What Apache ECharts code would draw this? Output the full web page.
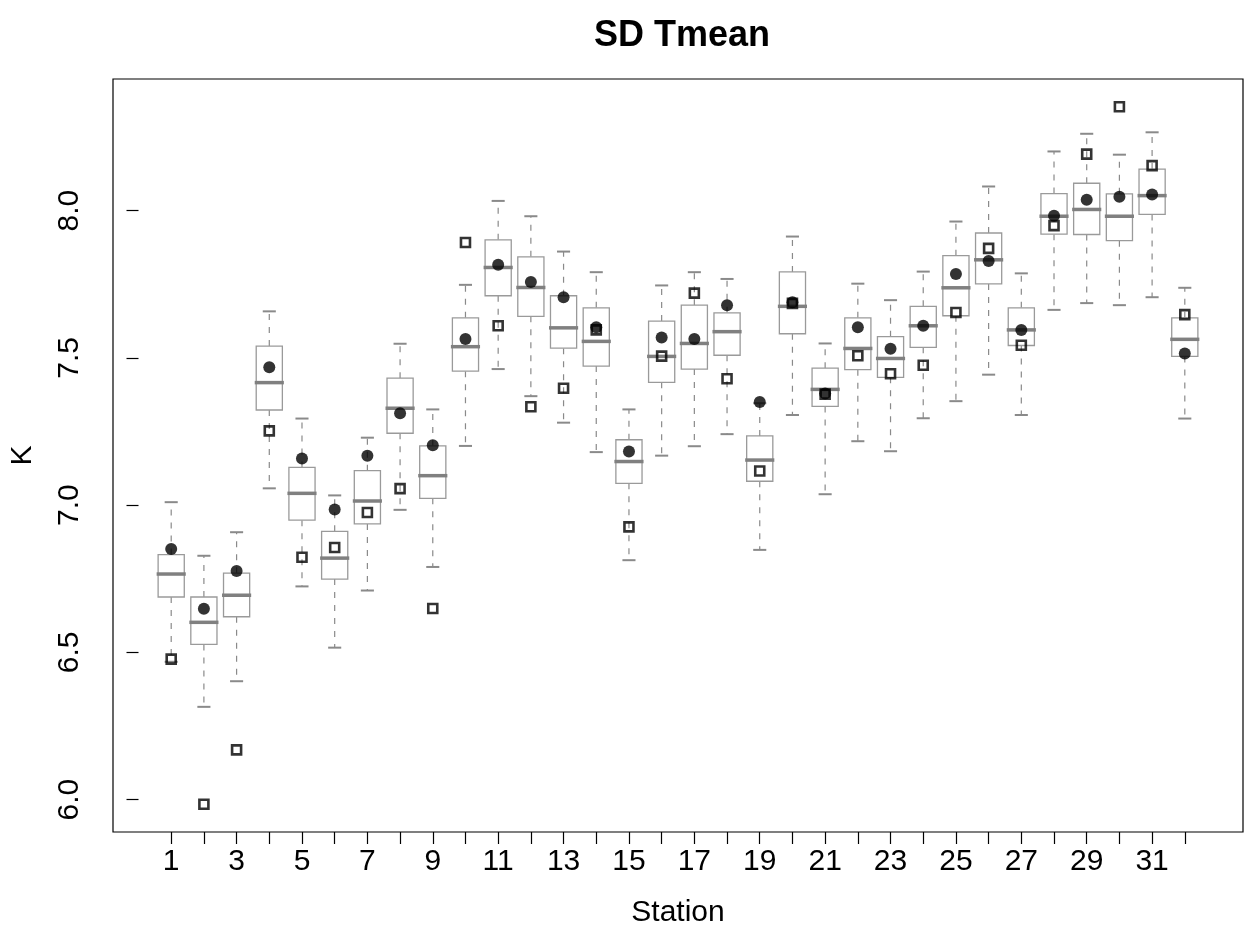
<!DOCTYPE html>
<html>
<head>
<meta charset="utf-8">
<title>SD Tmean</title>
<script src="https://cdn.jsdelivr.net/npm/echarts@6/dist/echarts.min.js"></script>
<style>
  html, body { margin: 0; padding: 0; background: #fff; }
  #chart { width: 1245px; height: 934px; }
</style>
</head>
<body>
<div id="chart"></div>
<script>
// stations on the x axis
var stations = [1,2,3,4,5,6,7,8,9,10,11,12,13,14,15,16,17,18,19,20,21,22,23,24,25,26,27,28,29,30,31,32];
// box statistics per station (K)
var whiskerLow = [6.468,6.315,6.402,7.057,6.724,6.516,6.710,6.984,6.790,7.201,7.462,7.370,7.280,7.180,6.813,7.168,7.200,7.241,6.848,7.306,7.037,7.217,7.183,7.295,7.353,7.443,7.306,7.663,7.686,7.679,7.706,7.294];
var q1 = [6.688,6.527,6.621,7.323,6.949,6.749,6.936,7.244,7.023,7.455,7.711,7.641,7.533,7.472,7.074,7.417,7.462,7.509,7.081,7.582,7.335,7.460,7.434,7.536,7.643,7.751,7.542,7.920,7.919,7.898,7.987,7.505];
var median = [6.766,6.602,6.694,7.416,7.040,6.820,7.014,7.329,7.100,7.538,7.807,7.739,7.602,7.556,7.148,7.505,7.549,7.589,7.153,7.675,7.393,7.532,7.498,7.609,7.738,7.833,7.595,7.981,8.004,7.981,8.051,7.563];
var q3 = [6.832,6.688,6.769,7.540,7.128,6.911,7.117,7.431,7.201,7.636,7.901,7.843,7.711,7.670,7.222,7.625,7.679,7.653,7.235,7.792,7.465,7.636,7.572,7.675,7.847,7.924,7.670,8.058,8.093,8.057,8.141,7.636];
var whiskerHigh = [7.010,6.828,6.908,7.658,7.294,7.033,7.229,7.548,7.325,7.748,8.033,7.981,7.861,7.791,7.325,7.746,7.791,7.768,7.346,7.912,7.549,7.752,7.696,7.793,7.963,8.082,7.787,8.201,8.261,8.190,8.266,7.738];
// filled dots and open squares
var dots = [6.851,6.648,6.776,7.468,7.158,6.985,7.168,7.312,7.203,7.564,7.816,7.758,7.706,7.604,7.182,7.569,7.564,7.679,7.350,7.689,7.379,7.604,7.531,7.609,7.785,7.829,7.595,7.983,8.037,8.047,8.055,7.515];
var squares = [6.477,5.984,6.169,7.252,6.823,6.856,6.975,7.056,6.649,7.892,7.609,7.334,7.397,7.595,6.926,7.506,7.720,7.429,7.116,7.685,7.377,7.507,7.446,7.475,7.654,7.872,7.543,7.949,8.192,8.353,8.153,7.647];
// tick labels
var xTicks = stations;
var xLabels = [1,3,5,7,9,11,13,15,17,19,21,23,25,27,29,31];
var yTicks = [6.0,6.5,7.0,7.5,8.0];

var font = "'Liberation Sans', Arial, Helvetica, sans-serif";

var boxData = stations.map(function (s, i) {
    return [s, whiskerLow[i], q1[i], median[i], q3[i], whiskerHigh[i]];
});
var dotData = stations.map(function (s, i) { return [s, dots[i]]; });
var squareData = stations.map(function (s, i) { return [s, squares[i]]; });

function renderBox(params, api) {
    var x = api.value(0);
    var lo = api.coord([x, api.value(1)]);
    var b1 = api.coord([x, api.value(2)]);
    var md = api.coord([x, api.value(3)]);
    var b3 = api.coord([x, api.value(4)]);
    var hi = api.coord([x, api.value(5)]);
    var w = api.size([0.8, 0])[0];
    var cx = md[0];
    var grey = '#8a8a8a';
    var whisk = { stroke: grey, lineWidth: 1.2, lineDash: [6, 7] };
    var cap = { stroke: grey, lineWidth: 2 };
    return {
        type: 'group',
        children: [
            { type: 'line', shape: { x1: cx, y1: b3[1], x2: cx, y2: hi[1] }, style: whisk },
            { type: 'line', shape: { x1: cx, y1: b1[1], x2: cx, y2: lo[1] }, style: whisk },
            { type: 'line', shape: { x1: cx - w / 4, y1: hi[1], x2: cx + w / 4, y2: hi[1] }, style: cap },
            { type: 'line', shape: { x1: cx - w / 4, y1: lo[1], x2: cx + w / 4, y2: lo[1] }, style: cap },
            { type: 'rect', shape: { x: cx - w / 2, y: b3[1], width: w, height: b1[1] - b3[1] },
              style: { fill: '#fff', stroke: '#9a9a9a', lineWidth: 1.3 } },
            { type: 'line', shape: { x1: cx - w / 2 - 1.5, y1: md[1], x2: cx + w / 2 + 1.5, y2: md[1] },
              style: { stroke: '#808080', lineWidth: 3.5 } }
        ]
    };
}

var option = {
    animation: false,
    backgroundColor: '#fff',
    title: {
        text: 'SD Tmean',
        left: 677,
        top: 13,
        textAlign: 'center',
        textStyle: { fontFamily: font, fontSize: 36, fontWeight: 'bold', color: '#000' }
    },
    grid: {
        left: 111, right: 2, top: 79, bottom: 102,
        show: true, borderColor: '#000', borderWidth: 1.2, backgroundColor: 'transparent'
    },
    xAxis: {
        type: 'value',
        min: -0.78,
        max: 33.78,
        name: 'Station',
        nameLocation: 'middle',
        nameGap: 66,
        nameTextStyle: { fontFamily: font, fontSize: 30, color: '#000' },
        axisLine: { show: false },
        splitLine: { show: false },
        axisTick: { show: true, length: 12, customValues: xTicks, lineStyle: { color: '#000', width: 1.2 } },
        axisLabel: { customValues: xLabels, margin: 15, fontFamily: font, fontSize: 30, color: '#000' }
    },
    yAxis: {
        type: 'value',
        min: 5.89,
        max: 8.447,
        name: 'K',
        nameLocation: 'middle',
        nameRotate: 90,
        nameGap: 75,
        nameTextStyle: { fontFamily: font, fontSize: 30, color: '#000' },
        axisLine: { show: false },
        splitLine: { show: false },
        axisTick: { show: true, length: 12, customValues: yTicks, lineStyle: { color: '#000', width: 1.2 } },
        axisLabel: {
            customValues: yTicks,
            rotate: 90,
            margin: 28,
            fontFamily: font,
            fontSize: 30,
            color: '#000',
            formatter: function (v) { return Number(v).toFixed(1); }
        }
    },
    series: [
        {
            type: 'custom',
            renderItem: renderBox,
            data: boxData,
            encode: { x: 0, y: [1, 2, 3, 4, 5] },
            z: 2
        },
        {
            type: 'scatter',
            data: dotData,
            symbol: 'circle',
            symbolSize: 12,
            itemStyle: { color: '#000' },
            z: 3
        },
        {
            type: 'scatter',
            data: squareData,
            symbol: 'rect',
            symbolSize: 9,
            itemStyle: { color: 'rgba(0,0,0,0)', borderColor: '#000', borderWidth: 2.6 },
            z: 4
        }
    ]
};

var chart = echarts.init(document.getElementById('chart'));
chart.setOption(option);
</script>
</body>
</html>
